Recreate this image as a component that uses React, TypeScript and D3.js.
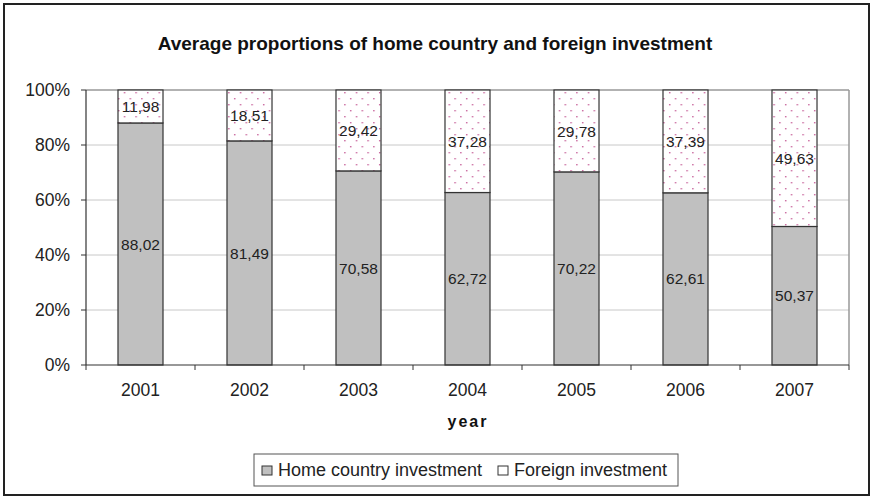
import React from "react";
import * as d3 from "d3";

const years = ["2001", "2002", "2003", "2004", "2005", "2006", "2007"];
const homeValues = [88.02, 81.49, 70.58, 62.72, 70.22, 62.61, 50.37];
const foreignValues = [11.98, 18.51, 29.42, 37.28, 29.78, 37.39, 49.63];
const yTicks = [0, 20, 40, 60, 80, 100];
const seriesNames = ["Home country investment", "Foreign investment"];

const W = 871;
const H = 497;
const M = { left: 86, right: 849, top: 90, bottom: 365 };
const FONT = "'Liberation Sans', Arial, sans-serif";

const fmt = (v: number) => v.toFixed(2).replace(".", ",");

export default function App() {
  const x = d3.scaleBand<string>().domain(years).range([M.left, M.right]).paddingInner(0.587).paddingOuter(0.2935);
  const y = d3.scaleLinear().domain([0, 100]).range([M.bottom, M.top]);
  const band = (M.right - M.left) / years.length;
  const tickXs = d3.range(years.length + 1).map((i) => M.left + i * band);

  return (
    <svg width={W} height={H} style={{ position: "absolute", left: 0, top: 0 }}>
      <defs>
        <pattern id="dots" width={11.6} height={12} patternUnits="userSpaceOnUse">
          <rect width={11.6} height={12} fill="#fff" />
          <rect x={2} y={2} width={1.4} height={1.4} fill="#c8609a" />
          <rect x={7.8} y={8} width={1.4} height={1.4} fill="#c8609a" />
        </pattern>
      </defs>
      <rect x={0} y={0} width={W} height={H} fill="#fff" />
      <rect x={4} y={4} width={865} height={491} fill="#fff" stroke="#222" strokeWidth={2} />
      <text x={435} y={50} textAnchor="middle" fontFamily={FONT} fontWeight="bold" fontSize={19} fill="#111">
        Average proportions of home country and foreign investment
      </text>
      {yTicks.map((t) => (
        <g key={t}>
          {t > 0 && t < 100 && (
            <line x1={M.left} x2={M.right} y1={y(t)} y2={y(t)} stroke="#c8c8c8" strokeWidth={1} />
          )}
          <line x1={M.left - 5} x2={M.left} y1={y(t)} y2={y(t)} stroke="#333" />
          <text x={70} y={y(t)} dy="0.36em" textAnchor="end" fontFamily={FONT} fontSize={17.5} fill="#222">
            {t}%
          </text>
        </g>
      ))}
      <line x1={M.left} x2={M.right} y1={M.top} y2={M.top} stroke="#999" strokeWidth={1.5} />
      <line x1={M.right} x2={M.right} y1={M.top} y2={M.bottom} stroke="#999" strokeWidth={1.5} />
      {years.map((yr, i) => {
        const bx = x(yr)!;
        const bw = x.bandwidth();
        const h = homeValues[i];
        const f = foreignValues[i];
        return (
          <g key={yr}>
            <rect x={bx} y={y(h)} width={bw} height={y(0) - y(h)} fill="#c0c0c0" stroke="#333" strokeWidth={1.2} />
            <rect x={bx} y={y(h + f)} width={bw} height={y(h) - y(h + f)} fill="url(#dots)" stroke="#333" strokeWidth={1.2} />
            <text x={bx + bw / 2} y={y(h / 2)} dy="0.36em" textAnchor="middle" fontFamily={FONT} fontSize={15.5} fill="#222">
              {fmt(h)}
            </text>
            <text x={bx + bw / 2} y={y(h + f / 2)} dy="0.36em" textAnchor="middle" fontFamily={FONT} fontSize={15.5} fill="#222">
              {fmt(f)}
            </text>
            <text x={bx + bw / 2} y={396} textAnchor="middle" fontFamily={FONT} fontSize={17.5} fill="#222">
              {yr}
            </text>
          </g>
        );
      })}
      <line x1={M.left} x2={M.left} y1={M.top} y2={M.bottom} stroke="#333" strokeWidth={1.2} />
      <line x1={M.left} x2={M.right} y1={M.bottom} y2={M.bottom} stroke="#333" strokeWidth={1.2} />
      {tickXs.map((tx, i) => (
        <line key={i} x1={tx} x2={tx} y1={M.bottom} y2={M.bottom + 5} stroke="#333" />
      ))}
      <text x={468} y={427} textAnchor="middle" fontFamily={FONT} fontWeight="bold" fontSize={16} letterSpacing={2} fill="#111">
        year
      </text>
      <rect x={254} y={454} width={424} height={32} fill="#fff" stroke="#555" strokeWidth={1} />
      <rect x={262} y={466} width={10} height={9} fill="#c0c0c0" stroke="#333" />
      <text x={278} y={476} fontFamily={FONT} fontSize={18} fill="#222">{seriesNames[0]}</text>
      <rect x={498} y={466} width={10} height={9} fill="#fff" stroke="#333" />
      <text x={514} y={476} fontFamily={FONT} fontSize={18} fill="#222">{seriesNames[1]}</text>
    </svg>
  );
}
